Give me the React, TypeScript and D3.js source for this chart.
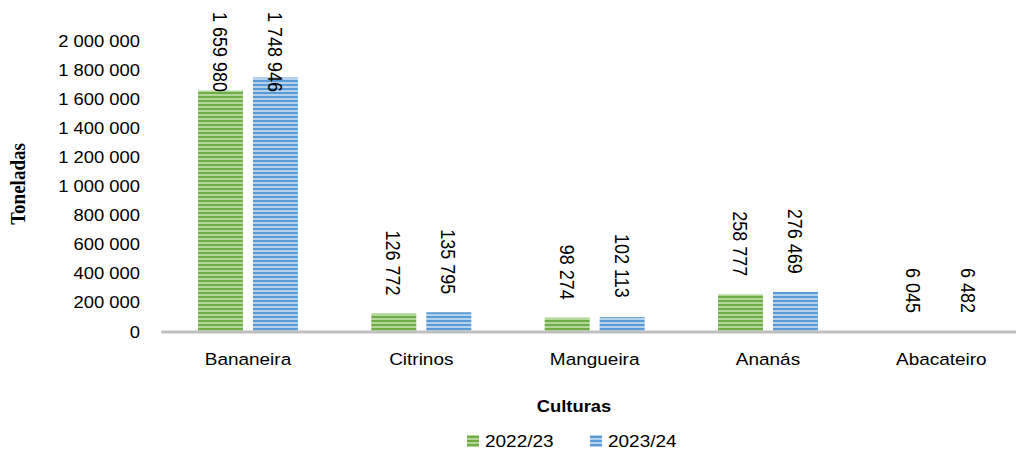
import React from "react";
import * as d3 from "d3";

const categories = ["Bananeira", "Citrinos", "Mangueira", "Ananás", "Abacateiro"];
const seriesNames = ["2022/23", "2023/24"];
const values2022 = [1659980, 126772, 98274, 258777, 6045];
const values2023 = [1748946, 135795, 102113, 276469, 6482];
const yTicks = [0, 200000, 400000, 600000, 800000, 1000000, 1200000, 1400000, 1600000, 1800000, 2000000];

const W = 1016;
const H = 452;
const SX = 1.15; // horizontal stretch of text seen in reference
const FONT = "'Liberation Sans', Arial, sans-serif";

const fmt = (v: number) => d3.format(",")(v).replace(/,/g, " ");

function textLen(s: string, size: number) {
  let em = 0;
  for (const c of s) em += c === " " ? 0.278 : 0.556;
  return em * size;
}

export default function App() {
  const x0 = d3.scaleBand<string>().domain(categories).range([161.3, 1028]).paddingInner(0).paddingOuter(0);
  const groupW = 100;
  const x1 = d3.scaleBand<string>().domain(seriesNames).range([0, groupW]).paddingInner(2 - groupW / 55).paddingOuter(0);
  const y = d3.scaleLinear().domain([0, 2000000]).range([332, 41]);
  const seriesValues = [values2022, values2023];
  const fills = ["url(#patG)", "url(#patB)"];
  const labelSize = 18;

  return (
    <svg width={W} height={H} style={{ position: "absolute", left: 0, top: 0, background: "#fff" }}>
      <defs>
        <pattern id="patG" width={4} height={4} patternUnits="userSpaceOnUse">
          <rect width={4} height={4} fill="#B3D69B" />
          <rect width={4} height={2} fill="#70AD47" />
        </pattern>
        <pattern id="patB" width={4} height={4} patternUnits="userSpaceOnUse">
          <rect width={4} height={4} fill="#B4D1EE" />
          <rect width={4} height={2} fill="#5B9BD5" />
        </pattern>
      </defs>

      {/* y tick labels */}
      {yTicks.map((t) => (
        <text
          key={t}
          transform={`translate(140,${y(t)}) scale(${SX},1)`}
          textAnchor="end"
          dominantBaseline="central"
          fontFamily={FONT}
          fontSize={16}
          fill="#000"
        >
          {fmt(t)}
        </text>
      ))}

      {/* bars */}
      {categories.map((c, i) => {
        const gx = (x0(c) as number) + (x0.bandwidth() - groupW) / 2;
        return seriesNames.map((s, si) => {
          const v = seriesValues[si][i];
          const bx = gx + (x1(s) as number);
          const top = y(v);
          return (
            <rect key={c + s} x={bx} y={top} width={x1.bandwidth()} height={y(0) - top} fill={fills[si]} />
          );
        });
      })}

      {/* axis line */}
      <line x1={161.3} x2={1028} y1={y(0)} y2={y(0)} stroke="#BFBFBF" strokeWidth={3} />

      {/* data labels */}
      {categories.map((c, i) => {
        const gx = (x0(c) as number) + (x0.bandwidth() - groupW) / 2;
        return seriesNames.map((s, si) => {
          const v = seriesValues[si][i];
          const cx = gx + (x1(s) as number) + x1.bandwidth() / 2;
          const label = fmt(v);
          const len = textLen(label, labelSize);
          const end = y(v) - 18;
          const start = Math.max(12, end - len);
          return (
            <text
              key={"l" + c + s}
              transform={`translate(${cx},${start}) scale(${SX},1) rotate(90)`}
              textAnchor="start"
              dominantBaseline="central"
              fontFamily={FONT}
              fontSize={labelSize}
              fill="#000"
            >
              {label}
            </text>
          );
        });
      })}

      {/* category labels */}
      {categories.map((c) => (
        <text
          key={"c" + c}
          transform={`translate(${(x0(c) as number) + x0.bandwidth() / 2},365) scale(${SX},1)`}
          textAnchor="middle"
          fontFamily={FONT}
          fontSize={16.5}
          fill="#000"
        >
          {c}
        </text>
      ))}

      {/* axis titles */}
      <text
        transform={`translate(25,184) scale(${SX},1) rotate(-90)`}
        textAnchor="middle"
        fontFamily="'Liberation Serif', 'Times New Roman', serif"
        fontWeight="bold"
        fontSize={19}
        fill="#000"
      >
        Toneladas
      </text>
      <text
        transform={`translate(574,412) scale(${SX},1)`}
        textAnchor="middle"
        fontFamily={FONT}
        fontWeight="bold"
        fontSize={16}
        fill="#000"
      >
        Culturas
      </text>

      {/* legend */}
      {seriesNames.map((s, si) => {
        const lx = [467, 590][si];
        return (
          <g key={"lg" + s}>
            <rect x={lx} y={435} width={12} height={12} fill={fills[si]} />
            <text
              transform={`translate(${lx + 18},447) scale(${SX},1)`}
              fontFamily={FONT}
              fontSize={16.5}
              fill="#000"
            >
              {s}
            </text>
          </g>
        );
      })}
    </svg>
  );
}
